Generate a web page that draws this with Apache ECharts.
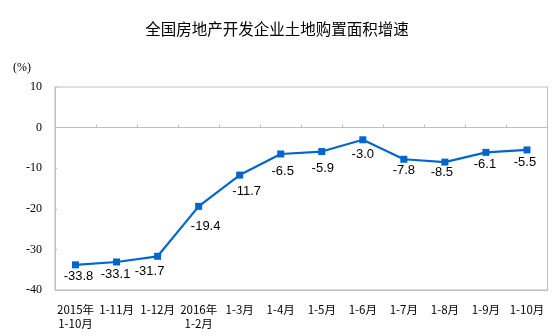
<!DOCTYPE html>
<html>
<head>
<meta charset="utf-8">
<style>
  html, body { margin: 0; padding: 0; background: #fff; }
  #chart { width: 554px; height: 336px; }
</style>
<script src="https://cdn.jsdelivr.net/npm/echarts@6/dist/echarts.min.js"></script>
</head>
<body>
<div id="chart"></div>
<script>
// Period labels (two lines where the year changes)
const categories = ['2015年\n1-10月', '1-11月', '1-12月', '2016年\n1-2月', '1-3月', '1-4月',
                    '1-5月', '1-6月', '1-7月', '1-8月', '1-9月', '1-10月'];
// Year-on-year growth of land purchase area (%)
const growth = [-33.8, -33.1, -31.7, -19.4, -11.7, -6.5, -5.9, -3.0, -7.8, -8.5, -6.1, -5.5];
// Value axis range
const yMin = -40, yMax = 10, yStep = 10;

// Small nudges so the value labels sit clear of the line
const labelNudge = [[3, 0], [-1, 0], [-8, 3], [7, 8], [7, 4], [2, 5],
                    [1, 5], [0, 3], [0, -1], [-3, -2], [-1, 0], [-2, 0]];

const chart = echarts.init(document.getElementById('chart'));
const borderColor = '#bfbfbf';

chart.setOption({
  animation: false,
  backgroundColor: '#fff',
  title: {
    text: '全国房地产开发企业土地购置面积增速',
    left: 'center',
    top: 16,
    textStyle: { fontFamily: 'Noto Sans CJK SC', fontSize: 15.5, fontWeight: 'normal', color: '#000' }
  },
  graphic: [{
    type: 'text',
    left: 13,
    top: 62,
    style: { text: '(%)', font: '12px "Liberation Serif"', fill: '#000' }
  }],
  grid: {
    left: 55, right: 6.5, top: 87, bottom: 46,
    show: true, borderColor: borderColor, borderWidth: 1, containLabel: false
  },
  xAxis: [{
    type: 'category',
    data: categories,
    position: 'bottom',
    boundaryGap: true,
    axisLine: { show: true, onZero: false, lineStyle: { color: borderColor } },
    axisTick: { show: false },
    axisLabel: {
      interval: 0, margin: 13, lineHeight: 14,
      fontFamily: 'Noto Sans CJK SC', fontSize: 11.5, color: '#000'
    }
  }, {
    type: 'category',
    data: categories,
    position: 'bottom',
    boundaryGap: true,
    axisLine: { show: true, onZero: true, lineStyle: { color: borderColor } },
    axisTick: { show: true, inside: true, length: 3, interval: 0, lineStyle: { color: borderColor } },
    axisLabel: { show: false },
    splitLine: { show: false }
  }],
  yAxis: {
    type: 'value',
    min: yMin, max: yMax, interval: yStep,
    axisLine: { show: true, lineStyle: { color: borderColor } },
    axisTick: { show: true, inside: true, length: 2, lineStyle: { color: borderColor } },
    splitLine: { show: false },
    axisLabel: { margin: 13, fontFamily: 'Liberation Serif', fontSize: 12, color: '#000' }
  },
  series: [{
    type: 'line',
    xAxisIndex: 0,
    data: growth.map((v, i) => ({
      value: v,
      label: { offset: labelNudge[i] }
    })),
    symbol: 'rect',
    symbolSize: 7,
    lineStyle: { color: '#0066cc', width: 2.2 },
    itemStyle: { color: '#0066cc' },
    label: {
      show: true,
      position: 'bottom',
      distance: 2,
      formatter: p => p.value.toFixed(1),
      fontFamily: 'Liberation Sans', fontSize: 13, color: '#000'
    }
  }]
});
</script>
</body>
</html>
